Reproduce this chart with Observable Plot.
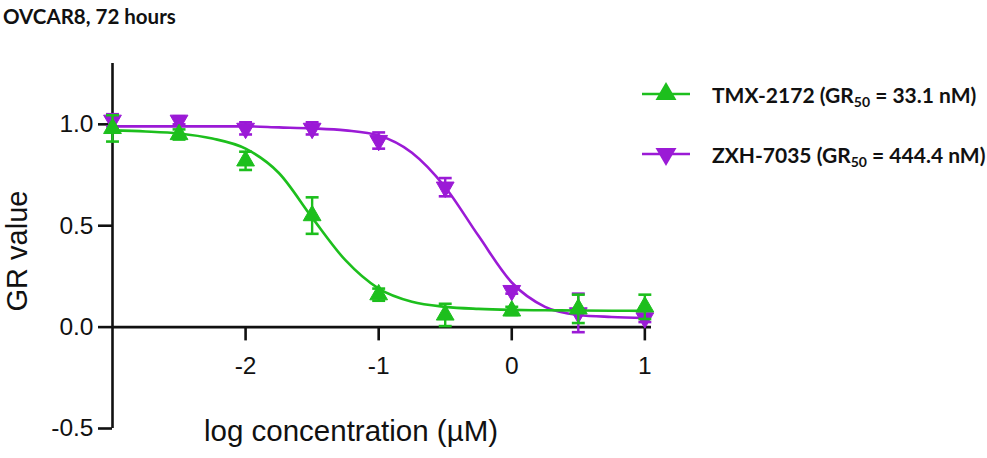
<!DOCTYPE html>
<html>
<head>
<meta charset="utf-8">
<script src="https://cdn.jsdelivr.net/npm/d3@7"></script>
<script src="https://cdn.jsdelivr.net/npm/@observablehq/plot@0.6"></script>
<style>
  html, body { margin: 0; padding: 0; background: #fff; }
  #wrap { position: relative; width: 987px; height: 458px; overflow: hidden; }
  #title { position: absolute; left: 3px; top: 4px; font-family: Lato, "Open Sans", sans-serif; font-weight: 700; font-size: 20.5px; color: #111; white-space: nowrap; }
  .leg { position: absolute; left: 640px; display: flex; align-items: center; font-family: Lato, "Open Sans", sans-serif; font-weight: 700; font-size: 21px; color: #111; white-space: nowrap; }
  .leg svg { margin-right: 20px; }
  .leg sub { font-size: 14px; vertical-align: -4px; line-height: 0; }
</style>
</head>
<body>
<div id="wrap">
  <div id="chart"></div>
  <div id="title">OVCAR8, 72 hours</div>
</div>
<script>
// ---- data ----
const titleText = "OVCAR8, 72 hours";
const seriesNames = ["TMX-2172", "ZXH-7035"];
const seriesGR50 = ["33.1 nM", "444.4 nM"];
const seriesColors = ["#1dbf1d", "#9b1ad6"];

const logConc = [-3, -2.5, -2, -1.5, -1, -0.5, 0, 0.5, 1];
const tmxMean = [0.98, 0.95, 0.82, 0.55, 0.16, 0.06, 0.08, 0.09, 0.10];
const tmxErr  = [0.065, 0.025, 0.045, 0.09, 0.03, 0.055, 0.02, 0.07, 0.06];
const zxhMean = [1.02, 1.02, 0.98, 0.98, 0.92, 0.69, 0.18, 0.07, 0.045];
const zxhErr  = [0.03, 0.02, 0.03, 0.03, 0.04, 0.045, 0.015, 0.095, 0.02];

// fitted curves
const curveX   = [-3, -2.75, -2.5, -2.25, -2, -1.75, -1.5, -1.25, -1, -0.75, -0.5, -0.25, 0, 0.25, 0.5, 0.75, 1];
const tmxCurve = [0.97, 0.965, 0.955, 0.93, 0.88, 0.76, 0.54, 0.33, 0.19, 0.125, 0.10, 0.09, 0.085, 0.083, 0.082, 0.081, 0.08];
const zxhCurve = [0.99, 0.99, 0.99, 0.99, 0.99, 0.985, 0.98, 0.97, 0.945, 0.86, 0.69, 0.45, 0.22, 0.10, 0.06, 0.05, 0.045];

const xTicks = [-2, -1, 0, 1];
const yTicks = [-0.5, 0, 0.5, 1.0];
const xDomain = [-3, 1.05];
const yDomain = [-0.5, 1.3];
const xLabel = "log concentration (µM)";
const yLabel = "GR value";

// ---- tables ----
const points = [];
const curves = [];
[[tmxMean, tmxErr, tmxCurve], [zxhMean, zxhErr, zxhCurve]].forEach(([m, e, c], i) => {
  logConc.forEach((x, j) => points.push({series: seriesNames[i], x, y: m[j], lo: m[j] - e[j], hi: m[j] + e[j]}));
  curveX.forEach((x, j) => curves.push({series: seriesNames[i], x, y: c[j]}));
});
const order = [seriesNames[1], seriesNames[0]]; // purple underneath green
const ptsOf = s => points.filter(d => d.series === s);
const crvOf = s => curves.filter(d => d.series === s);
const colorOf = s => seriesColors[seriesNames.indexOf(s)];

const capSymbol = {
  draw(ctx, size) { const w = Math.sqrt(size) / 2; ctx.moveTo(-w, 0); ctx.lineTo(w, 0); }
};

const font = "'Liberation Sans', Arial, sans-serif";
const marks = [];
for (const s of order) {
  const col = colorOf(s);
  const isDown = s === seriesNames[1];
  marks.push(Plot.line(crvOf(s), {x: "x", y: "y", stroke: col, strokeWidth: 2.6, curve: "monotone-x"}));
  marks.push(Plot.ruleX(ptsOf(s), {x: "x", y1: "lo", y2: "hi", stroke: col, strokeWidth: 2.4}));
  marks.push(Plot.dot(ptsOf(s), {x: "x", y: "lo", symbol: capSymbol, r: 7.3, stroke: col, strokeWidth: 2.6}));
  marks.push(Plot.dot(ptsOf(s), {x: "x", y: "hi", symbol: capSymbol, r: 7.3, stroke: col, strokeWidth: 2.6}));
  marks.push(Plot.dot(ptsOf(s), {x: "x", y: "y", symbol: "triangle", r: 6.6, fill: col, stroke: col, strokeWidth: 1, rotate: isDown ? 180 : 0}));
}

const chart = Plot.plot({
  width: 987,
  height: 458,
  marginLeft: 112,
  marginRight: 336,
  marginTop: 63,
  marginBottom: 30,
  style: {fontFamily: font, color: "#111", background: "#fff"},
  x: {domain: xDomain, axis: null},
  y: {domain: yDomain, axis: null},
  marks: [
    Plot.axisY(yTicks, {tickSize: 14, tickPadding: 5, fontSize: 24.5, strokeWidth: 2.6, tickFormat: d => d.toFixed(1), label: null}),
    Plot.ruleX([xDomain[0]], {y1: yDomain[0], y2: yDomain[1], stroke: "#111", strokeWidth: 2.6}),
    Plot.ruleY([0], {x1: xDomain[0], x2: xDomain[1], stroke: "#111", strokeWidth: 2.6}),
    Plot.ruleX(xTicks, {x: d => d, y1: 0, y2: -0.068, stroke: "#111", strokeWidth: 2.6}),
    Plot.text(xTicks, {x: d => d, y: 0, dy: 39, text: d => String(d), fontSize: 24.5, fill: "#111"}),
    Plot.text([yLabel], {frameAnchor: "left", textAnchor: "middle", lineAnchor: "middle", dx: -95, dy: 5, rotate: -90, fontSize: 29, fill: "#111"}),
    Plot.text([xLabel], {frameAnchor: "bottom", textAnchor: "middle", lineAnchor: "middle", dx: -31, dy: 3, fontSize: 29.5, fill: "#111"}),
    ...marks
  ]
});
document.getElementById("chart").appendChild(chart);
document.getElementById("title").textContent = titleText;

// ---- legend ----
const wrap = document.getElementById("wrap");
const legendTops = [81, 141];
seriesNames.forEach((name, i) => {
  const div = document.createElement("div");
  div.className = "leg";
  div.style.top = legendTops[i] + "px";
  const svg = d3.create("svg").attr("width", 52).attr("height", 26);
  svg.append("line").attr("x1", 2).attr("x2", 50).attr("y1", 13).attr("y2", 13)
    .attr("stroke", seriesColors[i]).attr("stroke-width", 2.6);
  svg.append("path").attr("d", d3.symbol(d3.symbolTriangle, 190)())
    .attr("transform", `translate(26,13) rotate(${i === 1 ? 180 : 0})`)
    .attr("fill", seriesColors[i]);
  div.appendChild(svg.node());
  const span = document.createElement("span");
  span.innerHTML = `${name} (GR<sub>50</sub> = ${seriesGR50[i]})`;
  div.appendChild(span);
  wrap.appendChild(div);
});
</script>
</body>
</html>
